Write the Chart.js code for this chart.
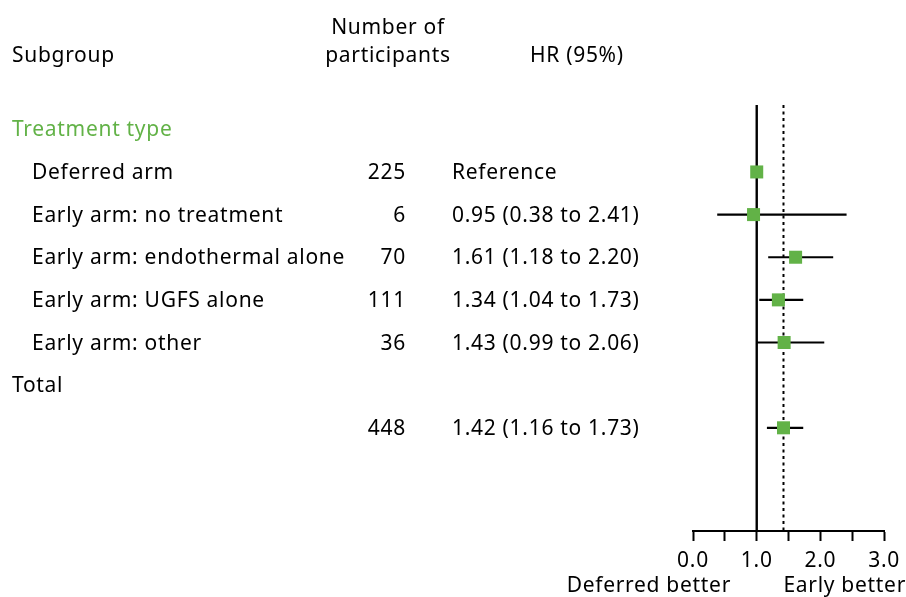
<!DOCTYPE html>
<html>
<head>
<meta charset="utf-8">
<script src="https://cdn.jsdelivr.net/npm/chart.js@4"></script>
<style>
  html, body { margin: 0; padding: 0; background: #fff; }
  #wrap { width: 906px; height: 597px; position: relative; }
</style>
</head>
<body>
<div id="wrap"><canvas id="forest" width="906" height="597"></canvas></div>
<script>
// Subgroup rows of the forest plot
const groupTitle = 'Treatment type';
const subgroups = ['Deferred arm', 'Early arm: no treatment', 'Early arm: endothermal alone', 'Early arm: UGFS alone', 'Early arm: other'];
const participants = [225, 6, 70, 111, 36];
const hazardRatios = [1.00, 0.95, 1.61, 1.34, 1.43];
const lowerCI = [null, 0.38, 1.18, 1.04, 0.99];
const upperCI = [null, 2.41, 2.20, 1.73, 2.06];

// Overall estimate
const totalParticipants = 448;
const totalHR = 1.42;
const totalLower = 1.16;
const totalUpper = 1.73;

// Axis ticks
const xTicks = [0, 0.5, 1, 1.5, 2, 2.5, 3];
const xTickLabels = ['0.0', '', '1.0', '', '2.0', '', '3.0'];

const GREEN = '#62b247';
const FONT = '"Noto Sans", sans-serif';
const FONT_SIZE = 21;
const SPACING = '0.7px';

// Row indices: 0 = group title, 1..5 = subgroups, 6 = "Total", 7 = total row
const subgroupRows = subgroups.map((_, i) => i + 1);
const totalRow = 7;
const Y_MIN = -0.57, Y_MAX = 9.42;

const hrLabel = (h, lo, hi) => lo == null ? 'Reference' : `${h.toFixed(2)} (${lo.toFixed(2)} to ${hi.toFixed(2)})`;

const whiskerSets = [];
subgroups.forEach((_, i) => {
  if (lowerCI[i] != null) {
    whiskerSets.push({ data: [{ x: lowerCI[i], y: subgroupRows[i] }, { x: upperCI[i], y: subgroupRows[i] }] });
  }
});
whiskerSets.push({ data: [{ x: totalLower, y: totalRow }, { x: totalUpper, y: totalRow }] });

const datasets = [
  // line of no effect
  { type: 'line', data: [{ x: 1, y: Y_MIN }, { x: 1, y: Y_MAX }], borderColor: '#000', borderWidth: 2.4, pointRadius: 0, order: 3 },
  // overall estimate reference line
  { type: 'line', data: [{ x: totalHR, y: Y_MIN }, { x: totalHR, y: Y_MAX }], borderColor: '#000', borderWidth: 2, borderDash: [3, 3.5], pointRadius: 0, order: 3 },
  ...whiskerSets.map(w => ({ type: 'line', data: w.data, borderColor: '#000', borderWidth: 2.2, pointRadius: 0, order: 2 })),
  // point estimates
  {
    type: 'scatter',
    data: [...hazardRatios.map((h, i) => ({ x: h, y: subgroupRows[i] })), { x: totalHR, y: totalRow }],
    pointStyle: 'rect', pointRadius: 9.2, pointHoverRadius: 9.2,
    backgroundColor: GREEN, borderWidth: 0, order: 1
  }
];

const spacingPlugin = {
  id: 'letterSpacing',
  beforeDraw(chart) { chart.ctx.letterSpacing = SPACING; }
};

const textPlugin = {
  id: 'forestText',
  afterDraw(chart) {
    const ctx = chart.ctx;
    const ys = chart.scales.y;
    ctx.save();
    ctx.letterSpacing = SPACING;
    ctx.font = `${FONT_SIZE}px ${FONT}`;
    ctx.fillStyle = '#000';
    ctx.textBaseline = 'middle';

    // column headers
    ctx.textAlign = 'left';
    ctx.fillText('Subgroup', 12, 56);
    ctx.textAlign = 'center';
    ctx.fillText('Number of', 388, 28);
    ctx.fillText('participants', 388, 56);
    ctx.textAlign = 'left';
    ctx.fillText('HR (95%)', 530, 56);

    // group title
    ctx.fillStyle = GREEN;
    ctx.fillText(groupTitle, 12, ys.getPixelForValue(0) + 1);
    ctx.fillStyle = '#000';

    subgroups.forEach((name, i) => {
      const y = ys.getPixelForValue(subgroupRows[i]) + 1;
      ctx.textAlign = 'left';
      ctx.fillText(name, 32, y);
      ctx.textAlign = 'right';
      ctx.fillText(String(participants[i]), 406, y);
      ctx.textAlign = 'left';
      ctx.fillText(hrLabel(hazardRatios[i], lowerCI[i], upperCI[i]), 452, y);
    });

    ctx.textAlign = 'left';
    ctx.fillText('Total', 12, ys.getPixelForValue(6) + 1);
    const ty = ys.getPixelForValue(totalRow) + 1;
    ctx.textAlign = 'right';
    ctx.fillText(String(totalParticipants), 406, ty);
    ctx.textAlign = 'left';
    ctx.fillText(hrLabel(totalHR, totalLower, totalUpper), 452, ty);

    // direction labels under the axis
    ctx.textAlign = 'right';
    ctx.fillText('Deferred better', 731, 586);
    ctx.fillText('Early better', 906, 586);
    ctx.restore();
  }
};

new Chart(document.getElementById('forest'), {
  data: { datasets },
  options: {
    responsive: false,
    animation: false,
    events: [],
    clip: false,
    layout: { padding: { left: 693, right: 21, top: 105, bottom: 0 } },
    plugins: { legend: { display: false }, tooltip: { enabled: false } },
    elements: { line: { tension: 0 } },
    datasets: { line: { clip: false }, scatter: { clip: false } },
    scales: {
      x: {
        type: 'linear', min: 0, max: 3,
        afterBuildTicks: s => { s.ticks = xTicks.map(v => ({ value: v })); },
        afterFit: s => { s.height = 66; },
        ticks: {
          autoSkip: false, maxRotation: 0, padding: 7, color: '#000',
          font: { family: FONT, size: FONT_SIZE },
          callback: (v) => { const k = xTicks.indexOf(v); return k >= 0 ? xTickLabels[k] : ''; }
        },
        grid: { drawOnChartArea: false, drawTicks: true, tickLength: 10, tickWidth: 2, tickColor: '#000' },
        border: { display: true, color: '#000', width: 2 }
      },
      y: {
        type: 'linear', display: false, reverse: true, min: Y_MIN, max: Y_MAX
      }
    }
  },
  plugins: [spacingPlugin, textPlugin]
});
</script>
</body>
</html>
